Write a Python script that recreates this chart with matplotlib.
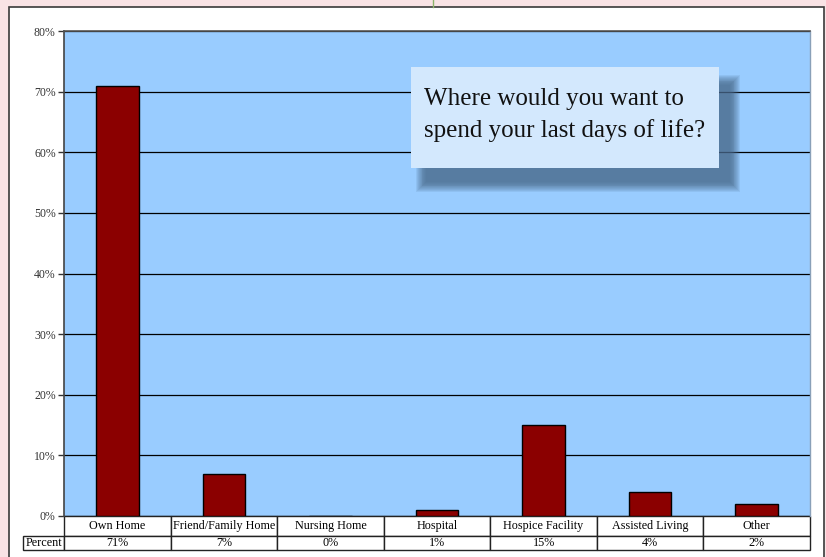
import matplotlib
matplotlib.use("Agg")
import matplotlib.pyplot as plt
from matplotlib.patches import Rectangle
from matplotlib.table import Table
from matplotlib.lines import Line2D

categories = ["Own Home", "Friend/Family Home", "Nursing Home", "Hospital",
              "Hospice Facility", "Assisted Living", "Other"]
percent = [71, 7, 0, 1, 15, 4, 2]
pct_labels = ["71%", "7%", "0%", "1%", "15%", "4%", "2%"]
yticks = [0, 10, 20, 30, 40, 50, 60, 70, 80]
ytick_labels = ["0%", "10%", "20%", "30%", "40%", "50%", "60%", "70%", "80%"]
title_text = "Where would you want to\nspend your last days of life?"

W, H = 826, 557
fig = plt.figure(figsize=(W / 100, H / 100), dpi=100)
fig.patch.set_facecolor("#f9e3e5")

def fx(px):
    return px / W

def fy(py):
    return 1 - py / H

# white chart frame
fig.patches.append(Rectangle((fx(9), fy(560)), fx(824) - fx(9), fy(7) - fy(560),
                             transform=fig.transFigure, facecolor="white",
                             edgecolor="#3a3a3a", linewidth=1.2, zorder=-5))
# small decorative green line at top
fig.lines.append(Line2D([fx(433), fx(433)], [fy(0), fy(7)], transform=fig.transFigure,
                        color="#8db36a", linewidth=1.0, zorder=-4))

left, right, top, bottom = 64, 810, 31, 516
ax = fig.add_axes([fx(left), fy(bottom), fx(right) - fx(left), fy(top) - fy(bottom)])
ax.set_facecolor("#99ccff")

x = list(range(len(categories)))
ax.bar(x, percent, width=0.4, color="#8b0000", edgecolor="black", linewidth=1.0, zorder=3)

ax.set_xlim(-0.5, len(categories) - 0.5)
ax.set_ylim(0, 80)
ax.set_yticks(yticks)
ax.set_yticklabels(ytick_labels, fontfamily="Liberation Serif", fontsize=8.5, color="#333333")
ax.set_xticks([])
ax.yaxis.grid(True, color="black", linewidth=0.9, zorder=1)
ax.set_axisbelow(True)
ax.tick_params(axis="y", length=4, width=1, color="#333333", pad=2)
ax.spines["left"].set_color("#444444")
ax.spines["left"].set_linewidth(1.2)
ax.spines["top"].set_color("#555555")
ax.spines["top"].set_linewidth(1.2)
ax.spines["right"].set_color("#8aa0b8")
ax.spines["right"].set_linewidth(1.0)
ax.spines["bottom"].set_visible(False)

# data table under the axes
axw = right - left
axh = bottom - top
rl_w = (left - 23) / axw
h1 = 20 / axh
h2 = 14 / axh
col_w = 1.0 / len(categories)
tbl = Table(ax, bbox=[0, -(h1 + h2), 1, h1 + h2])
tbl.auto_set_font_size(False)
fs = 8.7
for j, cat in enumerate(categories):
    c = tbl.add_cell(0, j, width=col_w, height=h1, text=cat, loc="center", facecolor="white")
    c.set_edgecolor("#222222")
    c.set_linewidth(1.0)
    c.get_text().set_fontfamily("Liberation Serif")
    c.set_fontsize(fs)
    c2 = tbl.add_cell(1, j, width=col_w, height=h2, text=pct_labels[j], loc="center", facecolor="white")
    c2.set_edgecolor("#222222")
    c2.set_linewidth(1.0)
    c2.get_text().set_fontfamily("Liberation Serif")
    c2.set_fontsize(fs)
rc = tbl.add_cell(1, -1, width=rl_w, height=h2, text="Percent", loc="center", facecolor="white")
rc.set_edgecolor("#222222")
rc.set_linewidth(1.0)
rc.get_text().set_fontfamily("Liberation Serif")
rc.set_fontsize(fs)
ax.add_table(tbl)

# text box with soft shadow
bx0, by0, bx1, by1 = 411, 67, 719, 168
sdx, sdy = 13, 16
n = 12
for i in range(n):
    grow = (n - i) * 0.9 - 3
    fig.patches.append(Rectangle((fx(bx0 + sdx - grow), fy(by1 + sdy + grow)),
                                 fx(bx1 + sdx + grow) - fx(bx0 + sdx - grow),
                                 fy(by0 + sdy - grow) - fy(by1 + sdy + grow),
                                 transform=fig.transFigure, facecolor="#4a6a8c",
                                 edgecolor="none", alpha=0.12, zorder=5))
fig.patches.append(Rectangle((fx(bx0), fy(by1)), fx(bx1) - fx(bx0), fy(by0) - fy(by1),
                             transform=fig.transFigure, facecolor="#d3e8fd",
                             edgecolor="none", zorder=6))
fig.text(fx(424), fy(115), title_text, fontfamily="Liberation Serif", fontsize=18,
         color="#111111", ha="left", va="center", linespacing=1.55, zorder=7)

fig.savefig("out.png", dpi=100, facecolor=fig.get_facecolor())
